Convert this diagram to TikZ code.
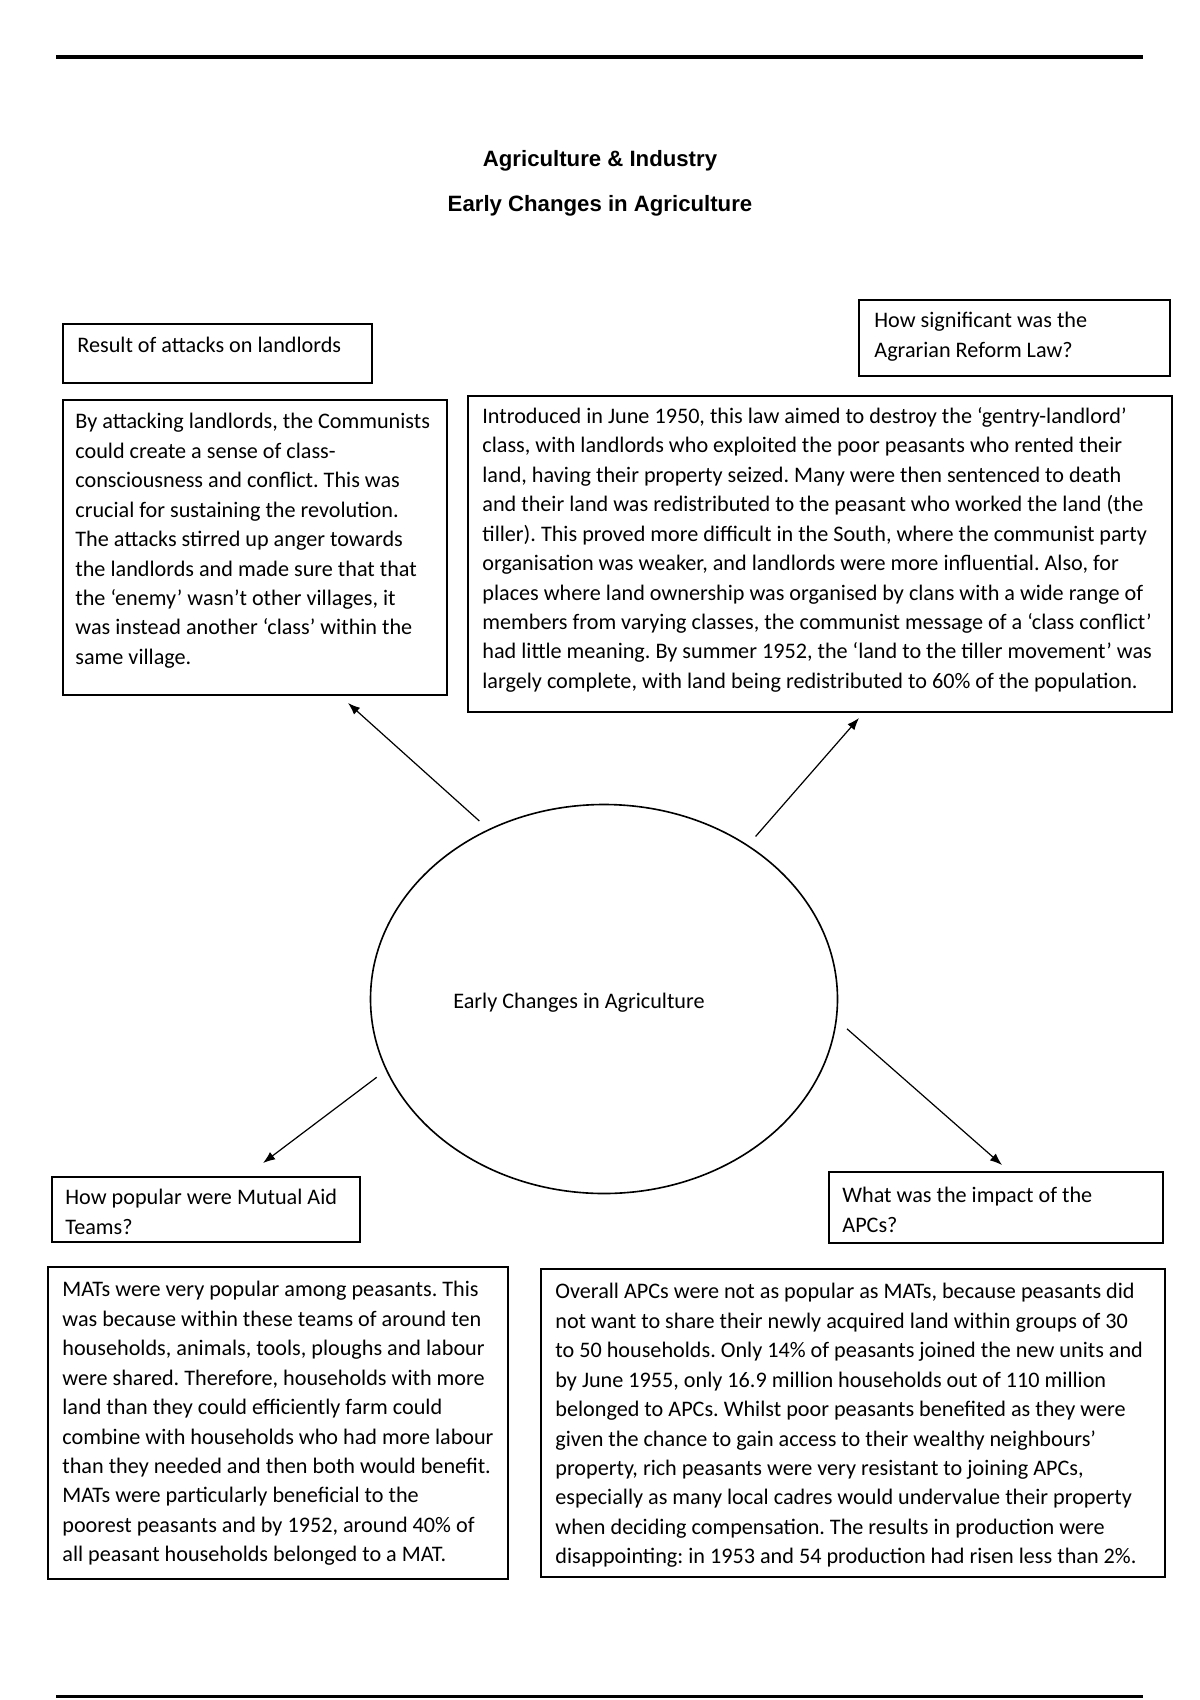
\documentclass[tikz,border=0pt]{standalone}
\usepackage{fontspec}
\setmainfont{Carlito}
\newfontfamily\headfont{Liberation Sans}
\usetikzlibrary{shapes.geometric,arrows.meta}
\newcommand{\bx}[5]{\node[box,minimum width={(#4-#2)*0.4958pt},minimum height={(#5-#3)*0.4958pt}] (#1) at (#2,#3) {};}
\begin{document}
\begin{tikzpicture}[x=0.4958pt,y=-0.4958pt,
  box/.style={draw,line width=0.8pt,rectangle,inner sep=0pt,outer sep=0pt,anchor=north west},
  txt/.style={anchor=north west,inner sep=0pt,align=left,font=\fontsize{11}{14.6}\selectfont\frenchspacing},
  ttl/.style={inner sep=0pt,font=\headfont\bfseries\fontsize{11}{13}\selectfont},
  arr/.style={-{Latex[length=6pt,width=4.5pt]},line width=0.6pt},
  rule/.style={line width=1.5pt}]
\useasboundingbox (0,0) rectangle (1200,1700);
% rules
\draw[rule] (56,57) -- (1143,57);
\draw[rule] (56,1696) -- (1143,1696);
% titles
\node[ttl] (t1) at (600,161) {Agriculture \& Industry};
\node[ttl] (t2) at (600,206) {Early Changes in Agriculture};
% boxes
\bx{h1}{63}{324}{372}{383}
\bx{h2}{859}{300}{1170}{376}
\bx{b1}{63}{400}{447}{695}
\bx{b2}{468}{396}{1172}{712}
\bx{h3}{52}{1177}{360}{1242}
\bx{h4}{829}{1172}{1163}{1243}
\bx{b3}{48}{1267}{508}{1579}
\bx{b4}{541}{1269}{1165}{1577}
% texts
\node[txt] (h1t) at (77,337) {Result of attacks on landlords};
\node[txt] (h2t) at (874,312) {How significant was the\\Agrarian Reform Law?};
\node[txt] (h3t) at (65,1189) {How popular were Mutual Aid\\Teams?};
\node[txt] (h4t) at (842,1187) {What was the impact of the\\APCs?};
\node[txt] (b1t) at (75,413) {By attacking landlords, the Communists\\
could create a sense of class-\\
consciousness and conflict. This was\\
crucial for sustaining the revolution.\\
The attacks stirred up anger towards\\
the landlords and made sure that that\\
the ‘enemy’ wasn’t other villages, it\\
was instead another ‘class’ within the\\
same village.};
\node[txt] (b2t) at (482,407) {Introduced in June 1950, this law aimed to destroy the ‘gentry-landlord’\\
class, with landlords who exploited the poor peasants who rented their\\
land, having their property seized. Many were then sentenced to death\\
and their land was redistributed to the peasant who worked the land (the\\
tiller). This proved more difficult in the South, where the communist party\\
organisation was weaker, and landlords were more influential. Also, for\\
places where land ownership was organised by clans with a wide range of\\
members from varying classes, the communist message of a ‘class conflict’\\
had little meaning. By summer 1952, the ‘land to the tiller movement’ was\\
largely complete, with land being redistributed to 60\% of the population.};
\node[txt] (b3t) at (62,1281) {MATs were very popular among peasants. This\\
was because within these teams of around ten\\
households, animals, tools, ploughs and labour\\
were shared. Therefore, households with more\\
land than they could efficiently farm could\\
combine with households who had more labour\\
than they needed and then both would benefit.\\
MATs were particularly beneficial to the\\
poorest peasants and by 1952, around 40\% of\\
all peasant households belonged to a MAT.};
\node[txt] (b4t) at (555,1283) {Overall APCs were not as popular as MATs, because peasants did\\
not want to share their newly acquired land within groups of 30\\
to 50 households. Only 14\% of peasants joined the new units and\\
by June 1955, only 16.9 million households out of 110 million\\
belonged to APCs. Whilst poor peasants benefited as they were\\
given the chance to gain access to their wealthy neighbours’\\
property, rich peasants were very resistant to joining APCs,\\
especially as many local cadres would undervalue their property\\
when deciding compensation. The results in production were\\
disappointing: in 1953 and 54 production had risen less than 2\%.};
% central ellipse
\node[draw,ellipse,line width=0.8pt,inner sep=0pt,outer sep=6pt,
  minimum width={467*0.4958pt},minimum height={389*0.4958pt}] (ell) at (604,999) {};
\node[inner sep=0pt,font=\fontsize{11}{14.6}\selectfont] (ellt) at (579,1003) {Early Changes in Agriculture};
% arrow tips
\coordinate (e1) at (348,703);
\coordinate (e2) at (859,718);
\coordinate (e3) at (263,1163);
\coordinate (e4) at (1002,1165);
\draw[arr] (ell.125) -- (e1);
\draw[arr] (ell.47) -- (e2);
\draw[arr] (ell.199) -- (e3);
\draw[arr] (ell.-7) -- (e4);
\end{tikzpicture}
\end{document}
